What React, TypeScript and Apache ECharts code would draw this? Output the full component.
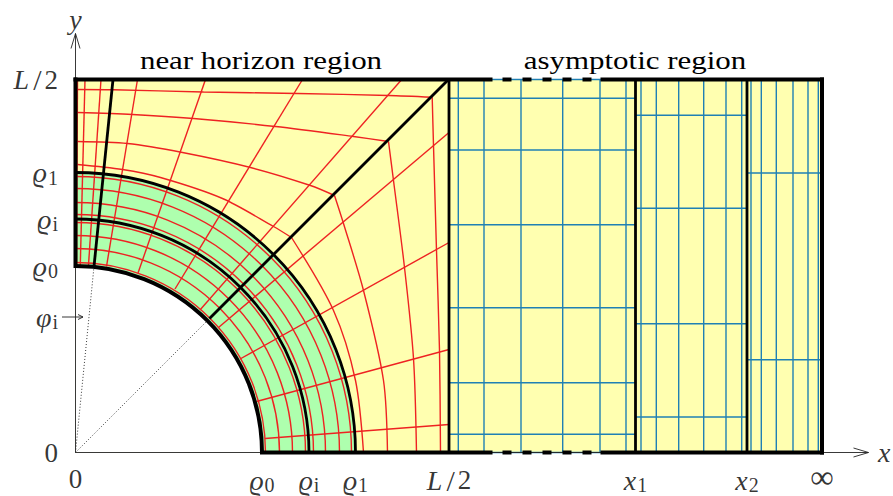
import React, { useEffect, useRef } from "react";
import * as echarts from "echarts";

// geometry, in data units (origin at the axes' crossing)
const rho0 = 186.5;
const rhoI = 233.5;
const rho1 = 280;
const width = 746.5;
const half = 373.5;
const height = 373;
const x1 = 560;
const x2 = 671.5;

const ringRadii = [190, 204, 217, 230, 238, 250, 264, 276];

const blueVerticals = [
  382.8, 408.5, 445.5, 487.2, 524.5, 550.5, 565.5, 580.8, 603.2, 628.2, 650.5, 666.2, 675.5, 685.8, 700.8, 717.5, 732.5, 742.8,
];
const blueZone1 = [354.2, 302.5, 227.8, 144.8, 69.8, 18.2];
const blueZone2 = [337.2, 244.2, 128.8, 35.5];
const blueZone3 = [279.5, 92.8];

const redRays = [
  [189.5, 14, 373.5, 28],
  [181, 51, 373.5, 103],
  [164.5, 93.5, 373.5, 210],
  [143, 125, 373.5, 320],
  [124.5, 142.5, 326.2, 373],
  [99.5, 163.5, 227, 373],
  [62.5, 179.5, 130, 373],
  [31, 186, 62, 373],
  [13, 187.5, 25.5, 373],
  [4.8, 187.5, 9.5, 373],
  [1, 187.5, 2, 373],
];

const outerCurve1a = [[288, 0], [280, 72], [258, 142], [216, 215]];
const outerCurve1b = [[216, 215], [198, 226], [147, 254], [85, 275], [47, 283], [2, 288]];
const outerCurve2a = [[312, 0], [308, 72], [288, 162], [268, 229], [259, 257]];
const outerCurve2b = [[259, 257], [235, 267], [175, 285], [107, 300], [52, 309], [2, 311]];
const outerCurve3a = [[341, 0], [338, 94], [329, 185], [318, 272], [313, 311]];
const outerCurve3b = [[313, 311], [278, 316], [200, 326], [118, 334], [57, 338], [2, 340]];
const outerCurve4a = [[365, 0], [364, 102], [361, 202], [358, 307], [356.7, 355.3]];
const outerCurve4b = [[356.7, 355.3], [313, 357], [222, 359], [128, 360.5], [38, 362.7], [2, 363]];

const blackRays = [
  [134, 134, 373, 373],
  [18.5, 186, 37.5, 373],
];
const dottedRays = [
  [0, 0, 18.5, 186],
  [0, 0, 134, 134],
];
const dashes = [[427, 436], [447, 456], [467, 476], [487, 496], [507, 516]];
const dashGap = [415, 527];
const solidBorders = [
  [0, rho0, 0, height],
  [0, height, dashGap[0], height],
  [dashGap[1], height, width, height],
  [rho0, 0, dashGap[0], 0],
  [dashGap[1], 0, width, 0],
  [width, 0, width, height],
];

const xTickValues = [0, rho0, rhoI, rho1, half, x1, x2];
const xTickLabels = ["{n|0}", "{i|ϱ}{s|0}", "{i|ϱ}{s|i}", "{i|ϱ}{s|1}", "{l|L}{v|/}{n|2}", "{i|x}{s|1}", "{i|x}{s|2}"];
const infinityValue = [width, 0];
const infinityLabel = "{inf|∞}";
const yTickValues = [height, rho1, rhoI, rho0, 135.5, 0];
const yTickLabels = ["{l|L}{v|/}{n|2}", "{i|ϱ}{s|1}", "{i|ϱ}{s|i}", "{i|ϱ}{s|0}", "{i|φ}{s|i}", "{n|0}"];
const regionNames = ["near horizon region", "asymptotic region"];
const regionCentres = [185.5, 559.5];

const RED = "#ee2222";
const BLUE = "#1f80b4";
const YELLOW = "#ffffb0";
const GREEN = "#aeffae";
const SERIF = "Liberation Serif";
const INK = "#000000";

const rich = {
  n: { fontFamily: SERIF, fontSize: 27, color: INK },
  i: { fontFamily: SERIF, fontSize: 28, fontStyle: "italic", color: INK },
  l: { fontFamily: SERIF, fontSize: 28, fontStyle: "italic", color: INK, padding: [0, 3, 0, 0] },
  v: { fontFamily: SERIF, fontSize: 30, color: INK, padding: [0, 3, 0, 1] },
  s: { fontFamily: SERIF, fontSize: 20, color: INK, verticalAlign: "bottom", padding: [10, 0, 0, 1] },
  inf: { fontFamily: SERIF, fontSize: 33, lineHeight: 30, color: INK },
};

function segments(data: number[][], z: number, style: any) {
  return {
    type: "custom",
    z,
    silent: true,
    clip: false,
    coordinateSystem: "cartesian2d",
    data,
    renderItem: (_: any, api: any) => {
      const a = api.coord([api.value(0), api.value(1)]);
      const b = api.coord([api.value(2), api.value(3)]);
      return {
        type: "line",
        shape: { x1: a[0], y1: a[1], x2: b[0], y2: b[1] },
        style: { fill: null, ...style },
      };
    },
  };
}

function arcs(radii: number[], z: number, style: any) {
  return {
    type: "custom",
    z,
    silent: true,
    clip: false,
    coordinateSystem: "cartesian2d",
    data: radii.map((r) => [r, 0]),
    renderItem: (_: any, api: any) => {
      const c = api.coord([0, 0]);
      const e = api.coord([api.value(0), 0]);
      return {
        type: "arc",
        shape: { cx: c[0], cy: c[1], r: e[0] - c[0], startAngle: -Math.PI / 2, endAngle: 0, clockwise: true },
        style: { fill: null, ...style },
      };
    },
  };
}

function sector(inner: number, outer: number, z: number, fill: string) {
  return {
    type: "custom",
    z,
    silent: true,
    clip: false,
    coordinateSystem: "cartesian2d",
    data: [[inner, outer]],
    renderItem: (_: any, api: any) => {
      const c = api.coord([0, 0]);
      const i = api.coord([api.value(0), 0]);
      const o = api.coord([api.value(1), 0]);
      return {
        type: "sector",
        shape: { cx: c[0], cy: c[1], r0: i[0] - c[0], r: o[0] - c[0], startAngle: -Math.PI / 2, endAngle: 0, clockwise: true },
        style: { fill },
      };
    },
  };
}

function curve(points: number[][]) {
  return {
    type: "line",
    z: 5,
    silent: true,
    showSymbol: false,
    smooth: 0.3,
    data: points,
    lineStyle: { color: RED, width: 1.4 },
  };
}

function labels(values: number[][], names: string[], position: any, distance: number) {
  return {
    type: "scatter",
    z: 20,
    silent: true,
    symbolSize: 1,
    itemStyle: { color: "rgba(0,0,0,0)" },
    data: values.map((value, k) => ({ value, name: names[k] })),
    label: { show: true, position, distance, formatter: "{b}", rich },
  };
}

export default function App() {
  const ref = useRef<HTMLDivElement>(null);
  useEffect(() => {
    const chart = echarts.init(ref.current!, undefined, { renderer: "svg" });
    const blue = { stroke: BLUE, lineWidth: 1.4 };
    const axis = { stroke: "#222222", lineWidth: 0.9 };
    chart.setOption({
      animation: false,
      backgroundColor: "#ffffff",
      grid: { left: 0, right: 0, top: 0, bottom: 0 },
      xAxis: { type: "value", min: -75.5, max: 817.5, show: false },
      yAxis: { type: "value", min: -43.5, max: 452.5, show: false },
      series: [
        {
          type: "custom",
          z: 1,
          silent: true,
          clip: false,
          coordinateSystem: "cartesian2d",
          data: [[0, 0, width, height]],
          renderItem: (_: any, api: any) => {
            const a = api.coord([api.value(0), api.value(3)]);
            const b = api.coord([api.value(2), api.value(1)]);
            return { type: "rect", shape: { x: a[0], y: a[1], width: b[0] - a[0], height: b[1] - a[1] }, style: { fill: YELLOW } };
          },
        },
        sector(0, rho0, 2, "#ffffff"),
        sector(rho0, rho1, 3, GREEN),
        segments(blueVerticals.map((x) => [x, 0, x, height]), 4, blue),
        segments(blueZone1.map((y) => [half, y, x1, y]), 4, blue),
        segments(blueZone2.map((y) => [x1, y, x2, y]), 4, blue),
        segments(blueZone3.map((y) => [x2, y, width, y]), 4, blue),
        segments([[dashGap[0], 0, dashGap[1], 0], [dashGap[0], height, dashGap[1], height]], 4, blue),
        arcs(ringRadii, 5, { stroke: RED, lineWidth: 1.4 }),
        curve(outerCurve1a),
        curve(outerCurve1b),
        curve(outerCurve2a),
        curve(outerCurve2b),
        curve(outerCurve3a),
        curve(outerCurve3b),
        curve(outerCurve4a),
        curve(outerCurve4b),
        segments(redRays, 6, { stroke: RED, lineWidth: 1.4 }),
        segments(dottedRays, 7, { stroke: "#222222", lineWidth: 0.9, lineDash: [1, 2] }),
        segments(
          [
            [0, 0, 793, 0],
            [778, 4.5, 793, 0],
            [778, -4.5, 793, 0],
            [0, 0, 0, 419],
            [-4.5, 404, 0, 419],
            [4.5, 404, 0, 419],
            [-13.5, 135.5, 7.5, 135.5],
            [2.5, 138, 7.5, 135.5],
            [2.5, 133, 7.5, 135.5],
          ],
          8,
          axis,
        ),
        arcs([rhoI, rho1], 9, { stroke: "#000000", lineWidth: 2.8 }),
        arcs([rho0], 10, { stroke: "#000000", lineWidth: 4 }),
        segments(blackRays, 10, { stroke: "#000000", lineWidth: 2.8 }),
        segments([half, x1, x2].map((x) => [x, 0, x, height]), 10, { stroke: "#000000", lineWidth: 2.8 }),
        segments(solidBorders, 11, { stroke: "#000000", lineWidth: 4, lineCap: "square" }),
        segments(
          dashes.flatMap(([a, b]) => [[a, 0, b, 0], [a, height, b, height]]),
          11,
          { stroke: "#000000", lineWidth: 4 },
        ),
        labels(xTickValues.map((x) => [x, 0]), xTickLabels, "bottom", 12),
        labels([infinityValue], [infinityLabel], "bottom", 9),
        labels(yTickValues.map((y) => [0, y]), yTickLabels, "left", 17),
        {
          type: "custom",
          z: 20,
          silent: true,
          clip: false,
          coordinateSystem: "cartesian2d",
          data: regionCentres.map((x) => [x, height]),
          renderItem: (params: any, api: any) => {
            const p = api.coord([api.value(0), api.value(1)]);
            return {
              type: "text",
              x: p[0],
              y: p[1] - 6,
              scaleX: 1.19,
              style: {
                text: regionNames[params.dataIndex],
                fontFamily: SERIF,
                fontSize: 26,
                fill: INK,
                textAlign: "center",
                textVerticalAlign: "bottom",
              },
            };
          },
        },
        labels([[793, 0]], ["{i|x}"], "right", 9),
        labels([[0, 419]], ["{i|y}"], "top", 0),
      ],
    });
    return () => chart.dispose();
  }, []);
  return <div ref={ref} style={{ position: "absolute", left: 0, top: 0, width: 893, height: 496 }} />;
}
